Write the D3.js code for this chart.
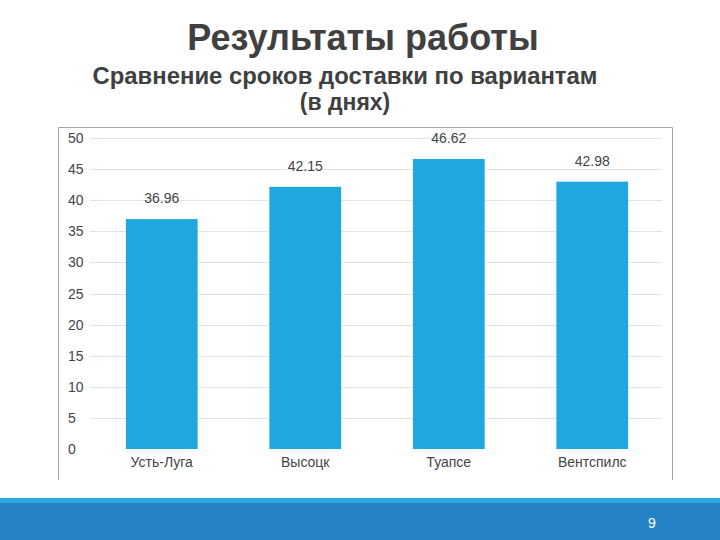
<!DOCTYPE html>
<html>
<head>
<meta charset="utf-8">
<script src="https://cdn.jsdelivr.net/npm/d3@7"></script>
<style>
  body { margin: 0; background: #fff; }
  svg { display: block; font-family: "Liberation Sans", Arial, sans-serif; }
</style>
</head>
<body>
<script>
// data
const ports = ['Усть-Луга', 'Высоцк', 'Туапсе', 'Вентспилс'];
const days = [36.96, 42.15, 46.62, 42.98];
const yTicks = [0, 5, 10, 15, 20, 25, 30, 35, 40, 45, 50];

const svg = d3.select('body').append('svg')
  .attr('width', 720)
  .attr('height', 540);

// titles
svg.append('text')
  .attr('x', 363).attr('y', 50)
  .attr('text-anchor', 'middle')
  .style('font-size', '36px').style('font-weight', 'bold')
  .attr('fill', '#404040')
  .text('Результаты работы');

svg.append('text')
  .attr('x', 345).attr('y', 84)
  .attr('text-anchor', 'middle')
  .style('font-size', '23px').style('font-weight', 'bold')
  .attr('fill', '#404040')
  .attr('textLength', 505)
  .attr('lengthAdjust', 'spacingAndGlyphs')
  .text('Сравнение сроков доставки по вариантам');

svg.append('text')
  .attr('x', 345).attr('y', 110)
  .attr('text-anchor', 'middle')
  .style('font-size', '23px').style('font-weight', 'bold')
  .attr('fill', '#404040')
  .text('(в днях)');

// chart frame (no bottom edge)
svg.append('path')
  .attr('d', 'M58.5,480 V127.5 H672.5 V480')
  .attr('fill', 'none')
  .attr('stroke', '#a6a6a6')
  .attr('stroke-width', 1);

const x = d3.scaleBand()
  .domain(ports)
  .range([90, 664])
  .paddingInner(0.5)
  .paddingOuter(0.25);

const y = d3.scaleLinear()
  .domain([0, 50])
  .range([449, 138]);

// gridlines
svg.append('g')
  .selectAll('line')
  .data(yTicks.filter(d => d > 0))
  .enter().append('line')
  .attr('x1', 90).attr('x2', 662)
  .attr('y1', d => Math.round(y(d)) + 0.5)
  .attr('y2', d => Math.round(y(d)) + 0.5)
  .attr('stroke', '#e3e3e3');

// y tick labels
svg.append('g')
  .selectAll('text')
  .data(yTicks)
  .enter().append('text')
  .attr('x', 68)
  .attr('y', d => y(d) + 5)
  .style('font-size', '14px')
  .attr('fill', '#444')
  .text(d => d);

// bars
svg.append('g')
  .selectAll('rect')
  .data(days)
  .enter().append('rect')
  .attr('x', (d, i) => x(ports[i]))
  .attr('y', d => y(d))
  .attr('width', x.bandwidth())
  .attr('height', d => y(0) - y(d))
  .attr('fill', '#1fa8e0');

// value labels
svg.append('g')
  .selectAll('text')
  .data(days)
  .enter().append('text')
  .attr('x', (d, i) => x(ports[i]) + x.bandwidth() / 2)
  .attr('y', d => y(d) - 16)
  .attr('text-anchor', 'middle')
  .style('font-size', '14px')
  .attr('fill', '#444')
  .text(d => d.toFixed(2));

// category labels
svg.append('g')
  .selectAll('text')
  .data(ports)
  .enter().append('text')
  .attr('x', d => x(d) + x.bandwidth() / 2)
  .attr('y', 467)
  .attr('text-anchor', 'middle')
  .style('font-size', '14px')
  .attr('fill', '#444')
  .text(d => d);

// footer band
svg.append('rect')
  .attr('x', 0).attr('y', 498)
  .attr('width', 720).attr('height', 6)
  .attr('fill', '#29abe2');
svg.append('rect')
  .attr('x', 0).attr('y', 503)
  .attr('width', 720).attr('height', 37)
  .attr('fill', '#2683c6');

svg.append('text')
  .attr('x', 652).attr('y', 528)
  .attr('text-anchor', 'middle')
  .style('font-size', '14px')
  .attr('fill', '#fff')
  .text('9');
</script>
</body>
</html>
